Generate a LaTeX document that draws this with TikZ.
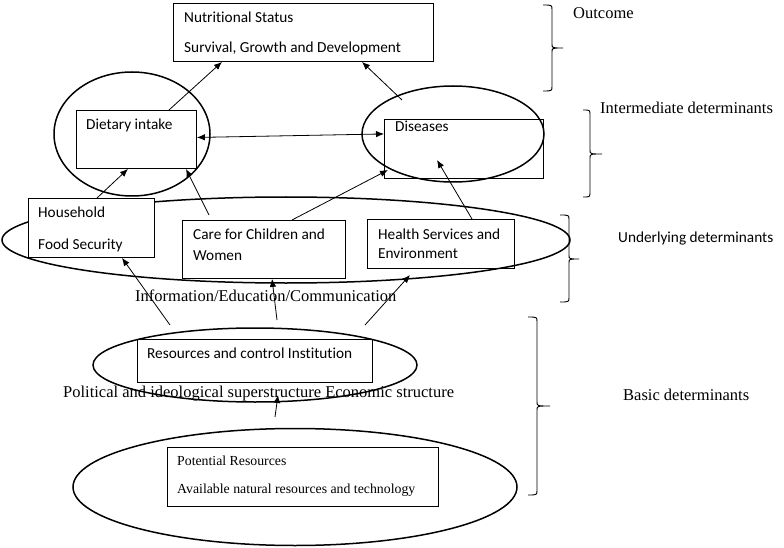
\documentclass[tikz,border=0pt]{standalone}
\usepackage{fontspec}
\setmainfont{Liberation Serif}
\newfontfamily\calibrifont[Ligatures=NoCommon]{Carlito}
\usetikzlibrary{shapes.geometric,arrows.meta}
\tikzset{
  box/.style={draw,line width=0.9pt,rectangle,inner sep=0pt,anchor=north west},
  oval/.style={draw,line width=1.5pt,ellipse,inner sep=0pt},
  sans/.style={inner sep=0pt,anchor=base west,font=\calibrifont\fontsize{15.3}{18}\selectfont},
  serif/.style={inner sep=0pt,anchor=base west,font=\fontsize{16.5}{19}\selectfont},
  small serif/.style={inner sep=0pt,anchor=base west,font=\fontsize{13.8}{16}\selectfont},
  arr/.style={line width=0.8pt,-{Latex[length=8pt,width=6.5pt]}},
  darr/.style={line width=0.8pt,{Latex[length=8pt,width=6.5pt]}-{Latex[length=8pt,width=6.5pt]}},
  brace/.style={line width=0.9pt}
}
\begin{document}
\begin{tikzpicture}[x=1pt,y=-1pt]
\useasboundingbox (0,0) rectangle (784,548);
\fill[white] (0,0) rectangle (784,548);

% ellipses
\node[oval,minimum width=156pt,minimum height=124pt] (dietO) at (132,134) {};
\node[oval,minimum width=182pt,minimum height=96pt] (disO) at (453,134) {};
\node[oval,minimum width=568pt,minimum height=86pt] (undO) at (286,240) {};
\node[oval,minimum width=324pt,minimum height=74pt] (resO) at (255,365) {};
\node[oval,minimum width=444pt,minimum height=117pt] (potO) at (295,487) {};

% boxes
\node[box,minimum width=260pt,minimum height=58pt] (ns) at (173,3) {};
\node[box,minimum width=120pt,minimum height=58pt] (diet) at (76,110) {};
\node[box,minimum width=159pt,minimum height=59pt] (dis) at (384,119) {};
\node[box,minimum width=126pt,minimum height=59pt,fill=white] (hh) at (28,198) {};
\node[box,minimum width=163pt,minimum height=58pt] (care) at (182,220) {};
\node[box,minimum width=147pt,minimum height=49pt] (hs) at (367,219) {};
\node[box,minimum width=235pt,minimum height=43pt] (res) at (137,339) {};
\node[box,minimum width=271pt,minimum height=59pt] (pot) at (167,447) {};

% texts
\node[sans] (t1) at (184,23) {Nutritional Status};
\node[sans] (t2) at (184,53) {Survival, Growth and Development};
\node[sans] (t3) at (86,130) {Dietary intake};
\node[sans] (t4) at (395,132) {Diseases};
\node[sans] (t5) at (38,218) {Household};
\node[sans] (t6) at (38,249) {Food Security};
\node[sans] (t7) at (193,239) {Care for Children and};
\node[sans] (t8) at (193,260) {Women};
\node[sans] (t9) at (378,239) {Health Services and};
\node[sans] (t10) at (378,258) {Environment};
\node[serif] (t11) at (135,301) {Information/Education/Communication};
\node[sans] (t12) at (147,358) {Resources and control Institution};
\node[serif] (t13) at (63,397) {Political and ideological superstructure Economic structure};
\node[small serif] (t14) at (177,465) {Potential Resources};
\node[small serif] (t15) at (177,493) {Available natural resources and technology};
\node[serif] (l1) at (573,19) {Outcome};
\node[serif] (l2) at (600,114) {Intermediate determinants};
\node[sans] (l3) at (618,242) {Underlying determinants};
\node[serif] (l4) at (623,400) {Basic determinants};

% free-end coordinates
\coordinate (c1) at (402,100);
\coordinate (c2) at (209,215);
\coordinate (c3) at (388,170);
\coordinate (c4) at (437,160);
\coordinate (c5) at (170,325);
\coordinate (c6) at (277,320);
\coordinate (c7) at (365,325);
\coordinate (c8) at (410,275);
\coordinate (c9) at (275,417);
\coordinate (c10) at (278,395);

% connectors
\draw[arr] ([xshift=93pt]diet.north west) -- ([xshift=49pt]ns.south west);
\draw[arr] (c1) -- ([xshift=189pt]ns.south west);
\draw[darr] ([yshift=2pt]diet.east) -- ([yshift=15pt]dis.west);
\draw[arr] ([xshift=69pt]hh.north west) -- ([xshift=52pt]diet.south west);
\draw[arr] (c2) -- ([xshift=110pt]diet.south west);
\draw[arr] ([xshift=110pt]care.north west) -- (c3);
\draw[arr] ([xshift=105pt]hs.north west) -- (c4);
\draw[arr] (c5) -- ([xshift=94pt]hh.south west);
\draw[arr] (c6) -- ([xshift=90pt]care.south west);
\draw[arr] (c7) -- (c8);
\draw[arr] (c9) -- (c10);

% braces
\draw[brace] (543,5) .. controls (552,5) .. (552,10) -- (552,44) .. controls (552,48) .. (563,48) .. controls (552,48) .. (552,52) -- (552,86) .. controls (552,91) .. (543,91);
\draw[brace] (583,110) .. controls (590,110) .. (590,115) -- (590,150) .. controls (590,154) .. (602,154) .. controls (590,154) .. (590,158) -- (590,192) .. controls (590,197) .. (583,197);
\draw[brace] (560,215) .. controls (569,215) .. (569,220) -- (569,255) .. controls (569,259) .. (579,259) .. controls (569,259) .. (569,263) -- (569,297) .. controls (569,302) .. (560,302);
\draw[brace] (528,317) .. controls (537,317) .. (537,322) -- (537,402) .. controls (537,406) .. (550,406) .. controls (537,406) .. (537,410) -- (537,490) .. controls (537,495) .. (528,495);
\end{tikzpicture}
\end{document}
